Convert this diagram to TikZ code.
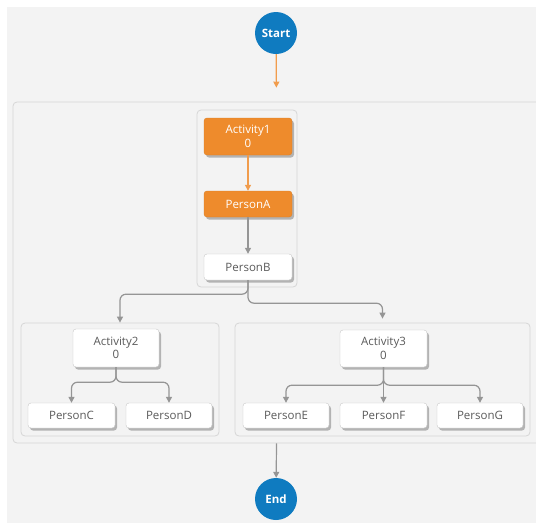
\documentclass[tikz,border=0pt]{standalone}
\usepackage{fontspec}
\setmainfont{Open Sans}
\usetikzlibrary{arrows.meta,shadows}

\definecolor{flowblue}{HTML}{0F7BC0}
\definecolor{floworange}{HTML}{EE8B2C}
\definecolor{canvasgray}{HTML}{F3F3F3}
\definecolor{linegray}{HTML}{959595}
\definecolor{labelgray}{HTML}{5A5A5A}

\tikzset{
  txt/.style={font=\fontsize{11.5}{13.5}\selectfont},
  shade/.style={drop shadow={shadow xshift=2pt, shadow yshift=-2.5pt, opacity=0.45, fill=black!60}},
  card/.style={rectangle, rounded corners=3pt, inner sep=0pt, align=center, txt, shade,
               minimum height=26pt},
  plain/.style={card, fill=white, draw=black!22, text=labelgray},
  hot/.style={card, fill=floworange, draw=floworange!92!black, text=white},
  group/.style={rectangle, rounded corners=4pt, draw=black!16, line width=0.8pt, inner sep=0pt},
  terminal/.style={circle, fill=flowblue, text=white, minimum size=42pt, inner sep=0pt,
                   font=\fontsize{11.5}{13}\selectfont\bfseries},
  orangeflow/.style={draw=floworange!85!white, line width=1.2pt, -{Triangle[length=6pt,width=6pt]}},
  grayflow/.style={draw=linegray, line width=1.2pt, -{Triangle[length=6pt,width=6pt]}},
}

\begin{document}
\begin{tikzpicture}[x=1pt, y=-1pt]
  % page and canvas
  \fill[white] (0,0) rectangle (536,523);
  \useasboundingbox (0,0) rectangle (536,523);
  \clip (0,0) rectangle (536,523);
  \fill[canvasgray] (7,7) rectangle (536,523);

  % containers
  \node[group, minimum width=527pt, minimum height=341pt] (outer) at (276.5,272.5) {};
  \node[group, minimum width=100pt, minimum height=177pt] (grpone) at (247,198.5) {};
  \node[group, minimum width=198pt, minimum height=113pt] (grptwo) at (120,379.5) {};
  \node[group, minimum width=295pt, minimum height=113pt] (grpthree) at (382.5,379.5) {};

  % start / end
  \node[terminal] (start) at (276,33) {Start};
  \node[terminal] (end) at (276,499) {End};

  % first group
  \node[hot, minimum width=88pt, minimum height=37pt] (act1) at (248,136.5) {Activity1\\0};
  \node[hot, minimum width=88pt] (pa) at (248,204) {PersonA};
  \node[plain, minimum width=88pt] (pb) at (248,267) {PersonB};

  % second group
  \node[plain, minimum width=86pt, minimum height=38pt] (act2) at (116,348) {Activity2\\0};
  \node[plain, minimum width=87pt, minimum height=25pt] (pc) at (71.5,415.5) {PersonC};
  \node[plain, minimum width=86pt, minimum height=25pt] (pd) at (169,415.5) {PersonD};

  % third group
  \node[plain, minimum width=87pt, minimum height=37pt] (act3) at (383.5,348.5) {Activity3\\0};
  \node[plain, minimum width=86pt, minimum height=25pt] (pe) at (286,415.5) {PersonE};
  \node[plain, minimum width=87pt, minimum height=25pt] (pf) at (383.5,415.5) {PersonF};
  \node[plain, minimum width=86pt, minimum height=25pt] (pg) at (480,415.5) {PersonG};

  % connectors
  \draw[orangeflow, shorten >=14pt] (start) -- (outer.north);
  \draw[orangeflow] (act1) -- (pa);
  \draw[grayflow] (pa) -- (pb);
  \draw[grayflow, rounded corners=6pt] (pb.south) -- ++(0,14) -| (grptwo.north);
  \draw[grayflow, rounded corners=6pt, shorten >=4pt] (pb.south) -- ++(0,23) -| (grpthree.north);

  \draw[grayflow, rounded corners=6pt] (act2.south) -- ++(0,15) -| (pc.north);
  \draw[grayflow, rounded corners=6pt] (act2.south) -- ++(0,15) -| (pd.north);

  \draw[grayflow, rounded corners=6pt] (act3.south) -- ++(0,18) -| (pe.north);
  \draw[grayflow] (act3.south) -- (pf.north);
  \draw[grayflow, rounded corners=6pt] (act3.south) -- ++(0,18) -| (pg.north);

  \draw[grayflow] (outer.south) -- (end);
\end{tikzpicture}
\end{document}
